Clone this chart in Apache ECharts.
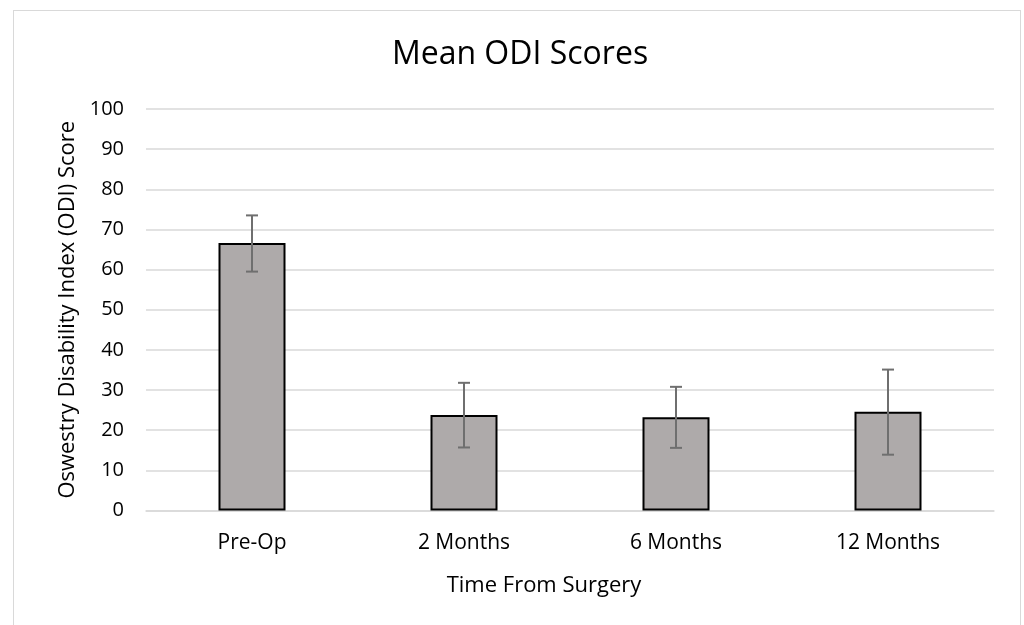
<!DOCTYPE html>
<html>
<head>
<meta charset="utf-8">
<script src="https://cdn.jsdelivr.net/npm/echarts@6/dist/echarts.min.js"></script>
<style>
html,body{margin:0;padding:0;background:#fff;}
#frame{position:absolute;left:13px;top:10px;width:1008px;height:640px;border:1px solid #d9d9d9;box-sizing:border-box;}
#chart{position:absolute;left:0;top:0;width:1024px;height:625px;}
</style>
</head>
<body>
<div id="frame"></div>
<div id="chart"></div>
<script>
const categories = ['Pre-Op', '2 Months', '6 Months', '12 Months'];
const meanScores = [66.6, 23.8, 23.2, 24.6];
const errLow = [59.5, 15.7, 15.6, 13.9];
const errHigh = [73.5, 31.8, 30.8, 35.1];
const yTicks = {min: 0, max: 100, interval: 10};

const FONT = '"Open Sans", "Noto Sans", sans-serif';
const chart = echarts.init(document.getElementById('chart'));
const errData = categories.map((c, i) => [i, errLow[i], errHigh[i]]);

chart.setOption({
  animation: false,
  title: {
    text: 'Mean ODI Scores',
    left: 515,
    textAlign: 'center',
    top: 34,
    textStyle: {fontFamily: FONT, fontSize: 32, fontWeight: 'normal', color: '#000'}
  },
  grid: {left: 146, right: 30, top: 109, bottom: 114.5, containLabel: false},
  xAxis: {
    type: 'category',
    data: categories,
    name: 'Time From Surgery',
    nameLocation: 'middle',
    nameGap: 64,
    nameTextStyle: {fontFamily: FONT, fontSize: 22, color: '#000', verticalAlign: 'top', padding: [0, 52, 0, 0]},
    axisLine: {lineStyle: {color: '#d9d9d9', width: 1.5}},
    axisTick: {show: false},
    axisLabel: {fontFamily: FONT, fontSize: 21, color: '#000', margin: 22}
  },
  yAxis: {
    type: 'value',
    min: yTicks.min, max: yTicks.max, interval: yTicks.interval,
    name: 'Oswestry Disability Index (ODI) Score',
    nameLocation: 'middle',
    nameGap: 64,
    nameTextStyle: {fontFamily: FONT, fontSize: 22, color: '#000'},
    axisLine: {show: false},
    axisTick: {show: false},
    axisLabel: {fontFamily: FONT, fontSize: 20, color: '#000', margin: 22},
    splitLine: {lineStyle: {color: '#d9d9d9', width: 1.5}}
  },
  series: [
    {
      type: 'bar',
      data: meanScores,
      barWidth: 67,
      itemStyle: {color: '#aeaaaa', borderColor: '#000', borderWidth: 2}
    },
    {
      type: 'custom',
      data: errData,
      z: 10,
      renderItem: function (params, api) {
        const x = api.value(0);
        const lo = api.coord([x, api.value(1)]);
        const hi = api.coord([x, api.value(2)]);
        const hw = 6;
        const style = {stroke: '#6f6f6f', lineWidth: 2};
        return {
          type: 'group',
          children: [
            {type: 'line', shape: {x1: lo[0], y1: lo[1], x2: hi[0], y2: hi[1]}, style: style},
            {type: 'line', shape: {x1: lo[0] - hw, y1: lo[1], x2: lo[0] + hw, y2: lo[1]}, style: style},
            {type: 'line', shape: {x1: hi[0] - hw, y1: hi[1], x2: hi[0] + hw, y2: hi[1]}, style: style}
          ]
        };
      }
    }
  ]
});
</script>
</body>
</html>
